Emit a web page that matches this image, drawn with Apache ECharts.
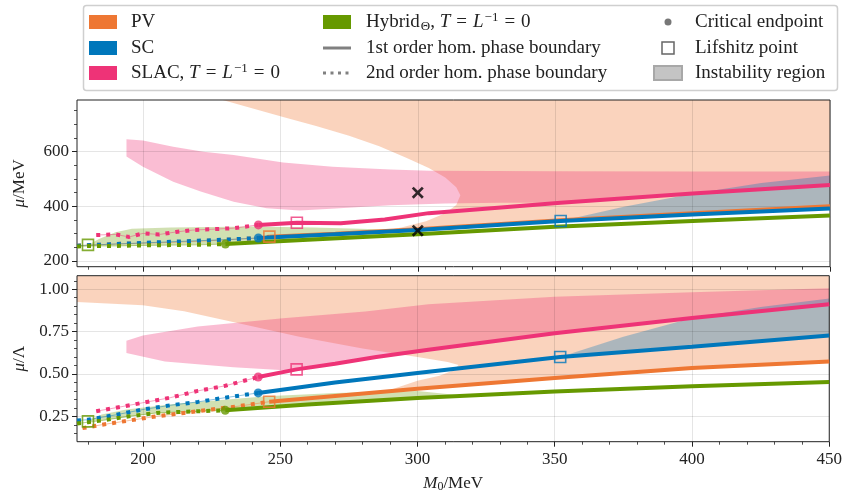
<!DOCTYPE html>
<html><head><meta charset="utf-8">
<script src="https://cdn.jsdelivr.net/npm/echarts@6.0.0/dist/echarts.min.js"></script>
<style>html,body{margin:0;padding:0;background:#fff}#c{width:845px;height:497px}</style>
</head><body><div id="c"></div>
<script>
// ---------- tick values ----------
const xMajor = [200, 250, 300, 350, 400, 450];
const xMinor = [180, 190, 210, 220, 230, 240, 260, 270, 280, 290, 310, 320, 330, 340, 360, 370, 380, 390, 410, 420, 430, 440];
const yTopMajor = [200, 400, 600];
const yTopMinor = [250, 300, 350, 450, 500, 550, 650, 700, 750];
const yBotMajor = [0.25, 0.5, 0.75, 1.0];
const yBotMinor = [0.15, 0.2, 0.3, 0.35, 0.4, 0.45, 0.55, 0.6, 0.65, 0.7, 0.8, 0.85, 0.9, 0.95, 1.05];

// ---------- top panel: mu / MeV ----------
const pvDotTop   = [[176,256],[190,262],[200,265],[210,268],[220,272],[230,277],[240,283],[246,289]];
const pvSolTop   = [[246,289],[270,300],[300,316],[352,349],[400,375],[450,400]];
const scDotTop   = [[176,256],[190,262],[200,266],[210,270],[220,274],[230,278],[242,284]];
const scSolTop   = [[242,284],[270,298],[300,313],[352,346],[400,370],[450,392]];
const hyDotTop   = [[176,253],[180,255],[190,255],[200,257],[210,258],[220,259],[230,262]];
const hySolTop   = [[230,262],[260,278],[300,298],[350,325],[400,346],[450,366]];
const slDotTop   = [[183,295],[190,297],[195,288],[200,301],[206,297],[212,306],[218,313],[225,316],[233,320],[242,332]];
const slSolTop   = [[242,332],[256,340],[272,338],[288,352],[304,375],[352,413],[400,447],[450,478]];
const pvRegTop   = [[229,789],[240,758],[251,727],[263,694],[275,658],[286,620],[296,577],[304,540],[310,505],[314,470],[315.5,440],[314,405],[310,375],[303,345],[294,322],[286,307],[300,316],[352,349],[400,375],[450,400],[450,789]];
const slRegTop   = [[194,645],[200,641],[211,618],[222,600],[233,588],[251,560],[269,545],[290,535],[304,530],[350,528],[400,527],[450,527],[450,478],[400,447],[352,413],[330,413],[310,410],[290,404],[270,392],[257,385],[245,393],[233,417],[221,454],[211,490],[200,545],[194,582]];
const scRegTop   = [[352,346],[375,398],[400,446],[425,485],[450,513],[450,392],[400,370],[352,346]];
const hyRegTop   = [[180,258],[184,280],[190,305],[196,318],[210,322],[240,326],[262,322],[282,317],[300,311],[306,303],[300,298],[260,278],[230,262],[200,257],[180,255]];
const cepTop     = {pv: [], sc: [[242,284]], sl: [[242,332]], hy: [[230,262]]};
const lifTop     = {pv: [[246,289]], sc: [[352,346]], sl: [[256,340]], hy: [[180,259]]};
const crossTop   = [[300,450],[300,311]];

// ---------- bottom panel: mu / Lambda ----------
const pvDotBot   = [[178,0.18],[185,0.2],[195,0.225],[205,0.25],[215,0.27],[225,0.29],[235,0.31],[246,0.336]];
const pvSolBot   = [[246,0.336],[270,0.37],[300,0.413],[350,0.476],[400,0.535],[450,0.574]];
const scDotBot   = [[176,0.225],[180,0.23],[190,0.258],[200,0.29],[210,0.315],[220,0.335],[230,0.36],[242,0.388]];
const scSolBot   = [[242,0.388],[270,0.45],[300,0.506],[352,0.6],[400,0.66],[450,0.727]];
const hyDotBot   = [[176,0.207],[180,0.215],[185,0.225],[195,0.25],[205,0.27],[215,0.277],[230,0.285]];
const hySolBot   = [[230,0.285],[260,0.32],[300,0.358],[350,0.397],[400,0.427],[450,0.453]];
const slDotBot   = [[183,0.28],[190,0.3],[200,0.33],[210,0.36],[220,0.4],[230,0.43],[242,0.482]];
const slSolBot   = [[242,0.482],[256,0.527],[270,0.56],[285,0.6],[304,0.643],[350,0.74],[400,0.83],[450,0.912]];
const pvRegBot   = [[176,1.08],[176,0.925],[200,0.905],[215,0.87],[232,0.81],[257,0.72],[280,0.65],[300,0.6],[311,0.57],[315,0.553],[313,0.52],[308,0.49],[300,0.46],[290,0.405],[300,0.413],[350,0.476],[400,0.535],[450,0.574],[450,1.08]];
const slRegBot   = [[194,0.696],[200,0.727],[220,0.78],[251,0.829],[281,0.868],[304,0.912],[350,0.956],[400,0.982],[450,1.006],[450,0.912],[400,0.83],[350,0.74],[304,0.643],[285,0.6],[270,0.56],[256,0.527],[253,0.52],[233,0.54],[208,0.574],[194,0.623]];
const scRegBot   = [[352,0.6],[375,0.72],[400,0.83],[425,0.895],[450,0.945],[450,0.727],[400,0.66],[352,0.6]];
const hyRegBot   = [[180,0.22],[185,0.26],[194,0.29],[213,0.325],[245,0.368],[270,0.388],[300,0.4],[318,0.37],[300,0.358],[260,0.32],[230,0.285],[205,0.27],[185,0.225]];
const cepBot     = {pv: [], sc: [[242,0.388]], sl: [[242,0.482]], hy: [[230,0.285]]};
const lifBot     = {pv: [[246,0.336]], sc: [[352,0.6]], sl: [[256,0.527]], hy: [[180,0.22]]};

// ---------- styling ----------
const C = {pv: '#EE7733', sc: '#0077BB', sl: '#EE3377', hy: '#669900'};
const F = {pv: 'rgba(238,119,51,0.32)', sc: 'rgba(0,119,187,0.31)', sl: 'rgba(238,51,119,0.32)', hy: 'rgba(102,153,0,0.3)'};
const FONT = 'Liberation Serif';
const TXT = '#222';

function region(pts, fill, g, z) {
  return {type: 'custom', xAxisIndex: g * 2, yAxisIndex: g * 2, silent: true, z: z, clip: true, data: [0],
    renderItem: function (p, api) {
      return {type: 'polygon', shape: {points: pts.map(function (q) { return api.coord(q); })}, style: {fill: fill}};
    }};
}
function solid(pts, color, g) {
  return {type: 'line', xAxisIndex: g * 2, yAxisIndex: g * 2, data: pts, symbol: 'none', silent: true, z: 5,
    lineStyle: {color: color, width: 4, cap: 'butt'}};
}
function dotted(pts, color, g) {
  return [
    {type: 'line', xAxisIndex: g * 2, yAxisIndex: g * 2, data: pts, symbol: 'none', silent: true, z: 4,
      lineStyle: {color: color, width: 1, opacity: 0.45}},
    {type: 'line', xAxisIndex: g * 2, yAxisIndex: g * 2, data: pts, symbol: 'none', silent: true, z: 5,
      lineStyle: {color: color, width: 4, type: [4, 6], cap: 'butt'}}
  ];
}
function cep(pts, color, g) {
  return {type: 'scatter', xAxisIndex: g * 2, yAxisIndex: g * 2, data: pts, symbol: 'circle', symbolSize: 9, silent: true, z: 6,
    itemStyle: {color: color}};
}
function lif(pts, color, g) {
  return {type: 'scatter', xAxisIndex: g * 2, yAxisIndex: g * 2, data: pts, symbol: 'rect', symbolSize: 11, silent: true, z: 7,
    itemStyle: {color: 'rgba(0,0,0,0)', borderColor: color, borderWidth: 1.6}};
}

const series = [];
series.push(region(pvRegTop, F.pv, 0, 1), region(slRegTop, F.sl, 0, 1), region(scRegTop, F.sc, 0, 1), region(hyRegTop, F.hy, 0, 1));
series.push(region(pvRegBot, F.pv, 1, 1), region(slRegBot, F.sl, 1, 1), region(scRegBot, F.sc, 1, 1), region(hyRegBot, F.hy, 1, 1));
[[pvDotTop, pvSolTop, 'pv'], [scDotTop, scSolTop, 'sc'], [hyDotTop, hySolTop, 'hy'], [slDotTop, slSolTop, 'sl']].forEach(function (a) {
  series.push.apply(series, dotted(a[0], C[a[2]], 0)); series.push(solid(a[1], C[a[2]], 0));
});
[[pvDotBot, pvSolBot, 'pv'], [scDotBot, scSolBot, 'sc'], [hyDotBot, hySolBot, 'hy'], [slDotBot, slSolBot, 'sl']].forEach(function (a) {
  series.push.apply(series, dotted(a[0], C[a[2]], 1)); series.push(solid(a[1], C[a[2]], 1));
});
['pv', 'sc', 'hy', 'sl'].forEach(function (k) {
  series.push(cep(cepTop[k], C[k], 0), lif(lifTop[k], C[k], 0), cep(cepBot[k], C[k], 1), lif(lifBot[k], C[k], 1));
});
series.push({type: 'scatter', xAxisIndex: 0, yAxisIndex: 0, data: crossTop, silent: true, z: 8, symbolSize: 12,
  symbol: 'path://M0,1.6L1.6,0L5,3.4L8.4,0L10,1.6L6.6,5L10,8.4L8.4,10L5,6.6L1.6,10L0,8.4L3.4,5Z', itemStyle: {color: '#000'}});

const richBase = {
  r: {fontFamily: FONT, fontSize: 17, color: TXT},
  i: {fontFamily: FONT, fontSize: 17, fontStyle: 'italic', color: TXT},
  s: {fontFamily: FONT, fontSize: 12, color: TXT, verticalAlign: 'bottom', padding: [6, 0, 0, 0]}
};
function mainX(g, showLabels) {
  return {type: 'value', gridIndex: g, min: 176, max: 450, splitNumber: 5, z: 3,
    axisLine: {show: false},
    axisTick: {show: true, customValues: xMajor, length: 5, lineStyle: {color: TXT, width: 1}},
    axisLabel: {show: showLabels, customValues: xMajor, margin: 9, fontFamily: FONT, fontSize: 17, color: TXT},
    splitLine: {show: true, lineStyle: {color: 'rgba(0,0,0,0.1)', width: 1}},
    name: showLabels ? '{i|M}{s|0}{r|/MeV}' : '', nameLocation: 'middle', nameGap: 33,
    nameTextStyle: {rich: richBase}};
}
function minorX(g) {
  return {type: 'value', gridIndex: g, min: 176, max: 450, position: 'bottom', offset: 0,
    axisLine: {show: false}, axisTick: {show: true, customValues: xMinor, length: 3, lineStyle: {color: TXT, width: 0.8}},
    axisLabel: {show: false}, splitLine: {show: false}};
}
function mainY(g, min, max, split, major, name) {
  return {type: 'value', gridIndex: g, min: min, max: max, splitNumber: split, z: 3,
    axisLine: {show: false},
    axisTick: {show: true, customValues: major, length: 5, lineStyle: {color: TXT, width: 1}},
    axisLabel: {show: true, customValues: major, margin: 8, fontFamily: FONT, fontSize: 17, color: TXT,
      formatter: function (v) { return g === 1 ? v.toFixed(2) : String(v); }},
    splitLine: {show: true, lineStyle: {color: 'rgba(0,0,0,0.1)', width: 1}},
    name: name, nameLocation: 'middle', nameGap: 49, nameTextStyle: {rich: richBase}};
}
function minorY(g, min, max, minor) {
  return {type: 'value', gridIndex: g, min: min, max: max, position: 'left', offset: 0,
    axisLine: {show: false}, axisTick: {show: true, customValues: minor, length: 3, lineStyle: {color: TXT, width: 0.8}},
    axisLabel: {show: false}, splitLine: {show: false}};
}

const LFS = 19;
const legendFont = {fontFamily: FONT, fontSize: LFS, fill: TXT};
function ltext(x, y, t, rich) {
  return {type: 'text', x: x, y: y, z: 100, style: Object.assign({text: t, verticalAlign: 'middle', rich: rich || {}}, legendFont)};
}
const lrich = {
  r: {fontFamily: FONT, fontSize: LFS, fill: TXT},
  e: {fontFamily: FONT, fontSize: LFS, fill: TXT, padding: [0, 6, 0, 6]},
  i: {fontFamily: FONT, fontSize: LFS, fontStyle: 'italic', fill: TXT},
  sup: {fontFamily: FONT, fontSize: 13, fill: TXT, verticalAlign: 'top', padding: [0, 0, 9, 1]},
  sub: {fontFamily: FONT, fontSize: 13, fill: TXT, verticalAlign: 'bottom', padding: [7, 0, 0, 1]}
};
const R = [22, 48, 73];
const graphic = [
  {type: 'rect', z: 99, shape: {x: 83.5, y: 5.5, width: 754, height: 85, r: 3}, style: {fill: '#fff', stroke: '#cfcfcf', lineWidth: 1.5}},
  {type: 'rect', z: 100, shape: {x: 89, y: R[0] - 7, width: 28, height: 14}, style: {fill: C.pv}},
  {type: 'rect', z: 100, shape: {x: 89, y: R[1] - 7, width: 28, height: 14}, style: {fill: C.sc}},
  {type: 'rect', z: 100, shape: {x: 89, y: R[2] - 7, width: 28, height: 14}, style: {fill: C.sl}},
  ltext(131, R[0], 'PV'), ltext(131, R[1], 'SC'),
  ltext(131, R[2], '{r|SLAC, }{i|T}{e|=}{i|L}{sup|−1}{e|=}{r|0}', lrich),
  {type: 'rect', z: 100, shape: {x: 323, y: R[0] - 7, width: 28, height: 14}, style: {fill: C.hy}},
  {type: 'line', z: 100, shape: {x1: 323, y1: R[1], x2: 351, y2: R[1]}, style: {stroke: '#808080', lineWidth: 3}},
  {type: 'line', z: 100, shape: {x1: 323, y1: R[2], x2: 351, y2: R[2]}, style: {stroke: '#808080', lineWidth: 3, lineDash: [3, 4.5]}},
  ltext(366, R[0], '{r|Hybrid}{sub|Θ}{r|, }{i|T}{e|=}{i|L}{sup|−1}{e|=}{r|0}', lrich),
  ltext(366, R[1], '1st order hom. phase boundary'),
  ltext(366, R[2], '2nd order hom. phase boundary'),
  {type: 'circle', z: 100, shape: {cx: 668, cy: R[0], r: 3.5}, style: {fill: '#777'}},
  {type: 'rect', z: 100, shape: {x: 662, y: R[1] - 6, width: 12, height: 12}, style: {fill: 'none', stroke: '#666', lineWidth: 1.5}},
  {type: 'rect', z: 100, shape: {x: 654, y: R[2] - 7, width: 28, height: 14}, style: {fill: '#c4c4c4', stroke: '#a8a8a8', lineWidth: 2}},
  ltext(695, R[0], 'Critical endpoint'), ltext(695, R[1], 'Lifshitz point'), ltext(695, R[2], 'Instability region')
];

const option = {
  animation: false,
  backgroundColor: '#fff',
  grid: [
    {left: 77, top: 100, width: 753, height: 166.7, show: true, borderColor: '#222', borderWidth: 1, backgroundColor: 'rgba(0,0,0,0)', z: 4},
    {left: 77, top: 275.7, width: 753, height: 166, show: true, borderColor: '#222', borderWidth: 1, backgroundColor: 'rgba(0,0,0,0)', z: 4}
  ],
  xAxis: [mainX(0, false), minorX(0), mainX(1, true), minorX(1)],
  yAxis: [
    mainY(0, 179, 789, 3, yTopMajor, '{i|μ}{r|/MeV}'), minorY(0, 179, 789, yTopMinor),
    mainY(1, 0.1, 1.08, 5, yBotMajor, '{i|μ}{r|/Λ}'), minorY(1, 0.1, 1.08, yBotMinor)
  ],
  series: series,
  graphic: graphic
};
const chart = echarts.init(document.getElementById('c'), null, {renderer: 'canvas'});
chart.setOption(option);
</script></body></html>
